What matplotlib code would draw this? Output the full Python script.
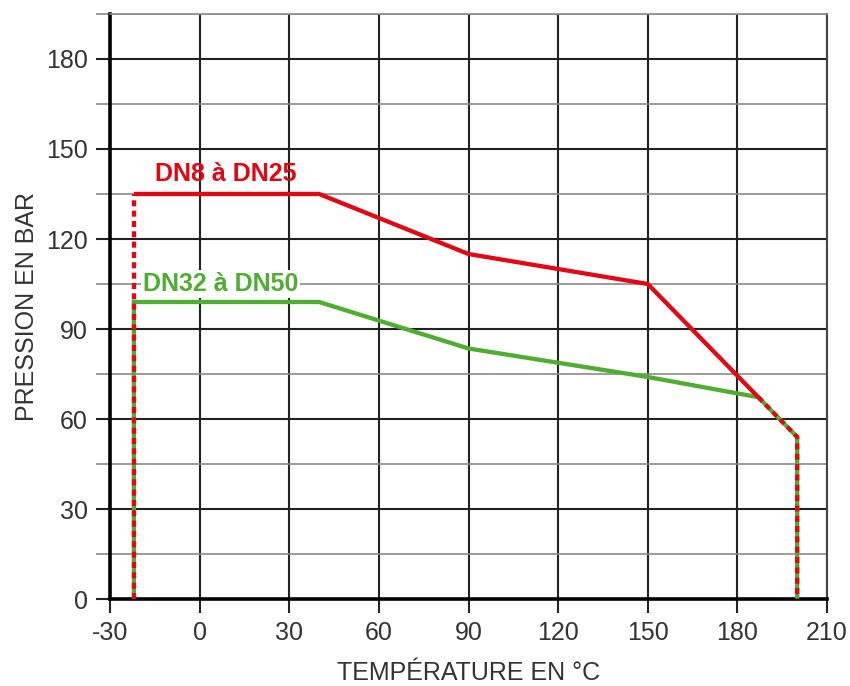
import numpy as np
import matplotlib
matplotlib.use("Agg")
import matplotlib.pyplot as plt
from matplotlib.ticker import MultipleLocator

plt.rcParams['font.family'] = ['Liberation Sans', 'DejaVu Sans']
plt.rcParams['axes.unicode_minus'] = False

# data
red_temp = [-22, 40, 90, 150, 200]
red_pres = [135, 135, 115, 105, 54]
green_temp = [-22, 40, 90, 150, 187]
green_pres = [99, 99, 83.5, 74, 67.3]
xticks = [-30, 0, 30, 60, 90, 120, 150, 180, 210]
yticks = [0, 30, 60, 90, 120, 150, 180]

RED = "#e30613"
GREEN = "#4fae32"
FS = 18

fig = plt.figure(figsize=(8.5, 6.86), dpi=100)
ax = fig.add_axes([0.1294, 0.1268, 0.8436, 0.8528])

ax.set_xlim(-30, 210)
ax.set_ylim(0, 195)

# grid: major every 30 dark, minor every 15 gray (horizontal only)
ax.xaxis.set_major_locator(MultipleLocator(30))
ax.yaxis.set_major_locator(MultipleLocator(30))
ax.yaxis.set_minor_locator(MultipleLocator(15))
ax.grid(which="major", color="#222222", linewidth=1.5, zorder=0)
ax.grid(which="minor", axis="y", color="#8a8a8a", linewidth=1.2, zorder=0)
ax.set_axisbelow(True)

ax.tick_params(which="major", length=10, width=1.5, color="#222222",
               labelsize=FS, labelcolor="#333333", pad=6)
ax.tick_params(which="minor", axis="y", length=10, width=1.2, color="#8a8a8a")
ax.set_xticks(xticks)
ax.set_yticks(yticks)

for s in ["left", "bottom"]:
    ax.spines[s].set_linewidth(2.6)
    ax.spines[s].set_color("black")
ax.spines["top"].set_color("#8a8a8a")
ax.spines["top"].set_linewidth(1.2)
ax.spines["right"].set_color("#444444")
ax.spines["right"].set_linewidth(1.5)

lw = 3.1
# shared end point on the red curve
x_join = green_temp[-1]
y_join = np.interp(x_join, red_temp, red_pres)
y_end = red_pres[-1]
x_end = red_temp[-1]

# green: full path incl. verticals and common tail
gx = [green_temp[0]] + green_temp + [x_end, x_end]
gy = [0] + green_pres[:-1] + [y_join, y_end, 0]
ax.plot(gx, gy, color=GREEN, linewidth=lw, solid_capstyle="butt",
        solid_joinstyle="miter", zorder=3)

# red solid part
rx = [t for t in red_temp if t < x_join] + [x_join]
ry = [p for t, p in zip(red_temp, red_pres) if t < x_join] + [y_join]
ax.plot(rx, ry, color=RED, linewidth=lw, solid_capstyle="butt", zorder=4)

# red dotted parts
dash = (0, (1.4, 1.0))
ax.plot([red_temp[0], red_temp[0]], [0, red_pres[0]], color=RED,
        linewidth=lw, linestyle=dash, dash_capstyle="butt", zorder=4)
ax.plot([x_join, x_end, x_end], [y_join, y_end, 0], color=RED,
        linewidth=lw, linestyle=dash, dash_capstyle="butt", zorder=4)

ax.text(-15, 141.7, "DN8 à DN25", color=RED, fontsize=FS,
        fontweight="bold", va="center", ha="left", zorder=5)
ax.text(-19, 105, "DN32 à DN50", color=GREEN, fontsize=FS,
        fontweight="bold", va="center", ha="left", zorder=5,
        bbox=dict(facecolor="white", edgecolor="none", pad=1.5))

ax.set_xlabel("TEMPÉRATURE EN °C", fontsize=FS, color="#333333", labelpad=11)
ax.set_ylabel("PRESSION EN BAR", fontsize=FS, color="#333333", labelpad=5)

fig.savefig("out.png", dpi=100)
